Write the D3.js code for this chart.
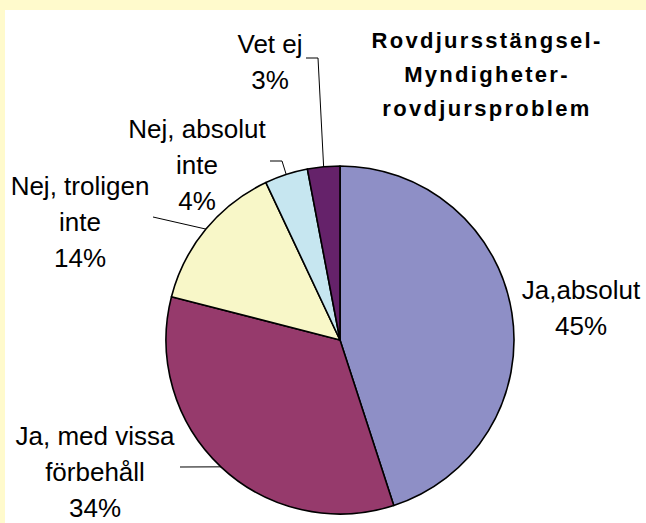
<!DOCTYPE html>
<html>
<head>
<meta charset="utf-8">
<script src="https://cdn.jsdelivr.net/npm/d3@7"></script>
<style>
  body { margin: 0; background: #fffacc; }
  svg { display: block; }
  text { font-family: "Liberation Sans", Arial, sans-serif; fill: #000; }
</style>
</head>
<body>
<svg id="chart" width="646" height="523"></svg>
<script>
// data
var labels = ["Ja,absolut", "Ja, med vissa förbehåll", "Nej, troligen inte", "Nej, absolut inte", "Vet ej"];
var values = [45, 34, 14, 4, 3];
var colors = ["#8e8fc6", "#963a6c", "#f8f7c8", "#c6e6f0", "#65226a"];
var titleLines = ["Rovdjursstängsel-", "Myndigheter-", "rovdjursproblem"];

// label text lines and where each label block sits (centre x, first baseline)
var labelLines = [["Ja,absolut"], ["Ja, med vissa", "förbehåll"], ["Nej, troligen", "inte"], ["Nej, absolut", "inte"], ["Vet ej"]];
var labelPos = [[581, 299], [95, 445], [80, 195], [197, 138], [270, 53]];
// leader line start points (null = no leader)
var leaders = [null, [[180, 467]], [[153, 217]], [[270, 161], [282, 161]], [[306, 58], [318, 58]]];

var svg = d3.select("#chart");
var cx = 340, cy = 340, r = 174;
var lineH = 36;

// white plot area inside the yellow frame
svg.append("rect").attr("x", 5).attr("y", 10).attr("width", 641).attr("height", 513).attr("fill", "#fff");

var pie = d3.pie().sort(null).value(function(d) { return d; });
var arcs = pie(values);
var arc = d3.arc().innerRadius(0).outerRadius(r);

var g = svg.append("g").attr("transform", "translate(" + cx + "," + cy + ")");
g.selectAll("path")
  .data(arcs)
  .enter().append("path")
  .attr("d", arc)
  .attr("fill", function(d, i) { return colors[i]; })
  .attr("stroke", "#000")
  .attr("stroke-width", 1.6)
  .attr("stroke-linejoin", "round");

// leader lines end on the arc edge at the slice middle
arcs.forEach(function(d, i) {
  if (!leaders[i]) return;
  var mid = (d.startAngle + d.endAngle) / 2;
  var end = [cx + r * Math.sin(mid), cy - r * Math.cos(mid)];
  var pts = leaders[i].concat([end]);
  svg.append("path")
    .attr("d", d3.line()(pts))
    .attr("fill", "none")
    .attr("stroke", "#000")
    .attr("stroke-width", 1);
});

// labels with percentages
arcs.forEach(function(d, i) {
  var lines = labelLines[i].concat([values[i] + "%"]);
  var t = svg.append("text")
    .attr("text-anchor", "middle")
    .attr("font-size", 26);
  lines.forEach(function(s, k) {
    t.append("tspan")
      .attr("x", labelPos[i][0])
      .attr("y", labelPos[i][1] + k * lineH)
      .text(s);
  });
});

// title
var title = svg.append("text")
  .attr("text-anchor", "middle")
  .attr("font-size", 22)
  .attr("font-weight", "bold")
  .attr("letter-spacing", 2.3);
titleLines.forEach(function(s, k) {
  title.append("tspan")
    .attr("x", 487)
    .attr("y", 48 + k * 34)
    .text(s);
});
</script>
</body>
</html>
